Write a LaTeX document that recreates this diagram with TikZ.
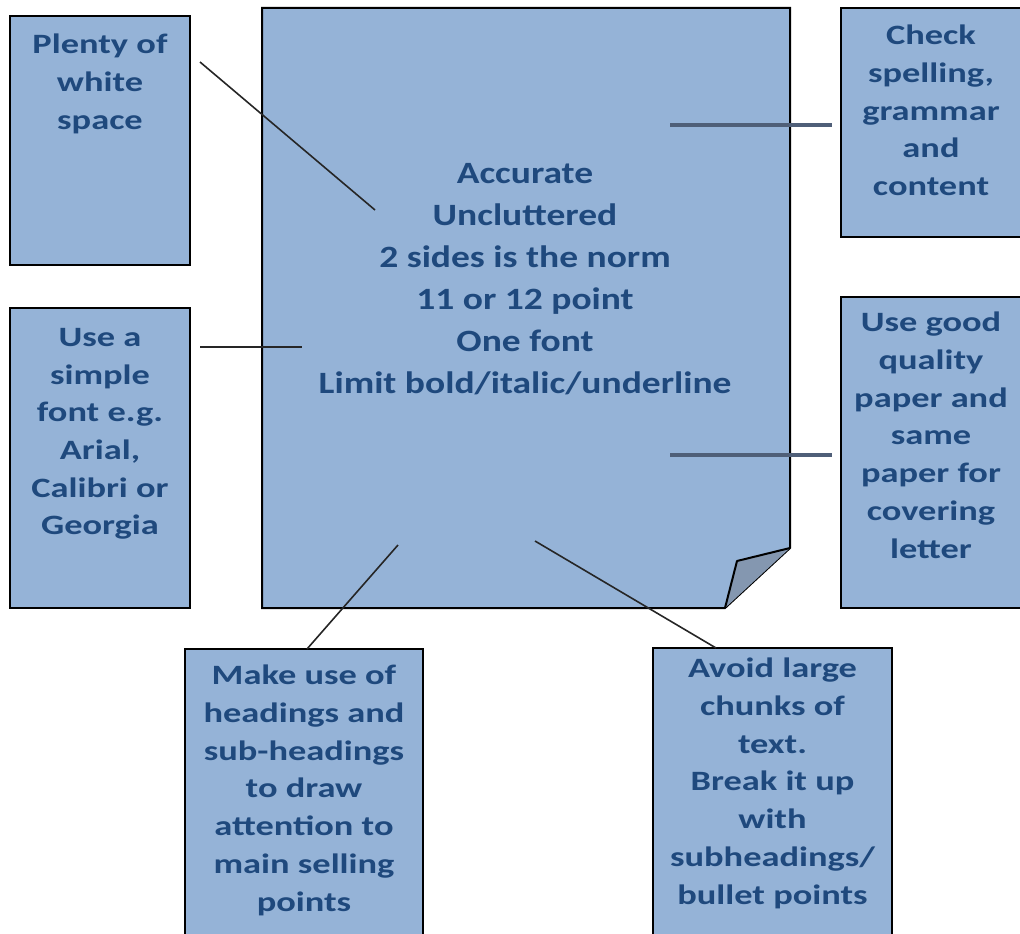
\documentclass[tikz,border=0pt]{standalone}
\usepackage{fontspec}
\setmainfont{Carlito}
\newfontfamily\pagefont{Carlito}[FakeStretch=1.21]
\newfontfamily\tipfont{Carlito}[FakeStretch=1.3]
\usetikzlibrary{positioning}
\definecolor{boxblue}{HTML}{95B3D7}
\definecolor{inkblue}{HTML}{1F497D}
\definecolor{foldblue}{HTML}{8497B0}
\definecolor{linegrey}{HTML}{4F5F78}

\begin{document}
\begin{tikzpicture}[x=1pt, y=-1pt,
    tip/.style={draw=black, line width=2pt, fill=boxblue, rectangle, inner sep=0pt},
    tiptext/.style={text=inkblue, font=\tipfont\bfseries\fontsize{28}{37.7}\selectfont,
      align=center, anchor=north, inner sep=0pt},
    pointer/.style={line width=1.6pt, draw=black!85},
    heavy/.style={line width=4.5pt, draw=linegrey}]
  \useasboundingbox (0,0) rectangle (1020,934);

  % the page
  \coordinate (nw) at (262,8);
  \coordinate (ne) at (790,8);
  \coordinate (se) at (790,548);
  \coordinate (fold) at (737,561);
  \coordinate (sw) at (725,608);
  \draw[fill=boxblue, line width=2pt] (nw) -- (ne) -- (se) -- (sw) -- (262,608) -- cycle;
  \fill[foldblue] (se) -- (fold) -- (sw) -- cycle;
  \draw[line width=2pt, line join=round] (se) -- (fold) -- (sw);

  \node[text=inkblue, font=\pagefont\bfseries\fontsize{31}{42}\selectfont, align=center] (rules) at (525,279)
    {Accurate\\Uncluttered\\2 sides is the norm\\11 or 12 point\\One font\\Limit bold/italic/underline};

  % tips round the page
  \node[tip, minimum width=180, minimum height=249] (whitespace) at (100,140.5) {};
  \node[tiptext] at ([yshift=-19pt]whitespace.north) {Plenty of\\white\\space};

  \node[tip, minimum width=180, minimum height=300] (simplefont) at (100,458) {};
  \node[tiptext] at ([yshift=-21pt]simplefont.north) {Use a\\simple\\font e.g.\\Arial,\\Calibri or\\Georgia};

  \node[tip, minimum width=184, minimum height=229] (spelling) at (933,122.5) {};
  \node[tiptext] at ([xshift=-2pt, yshift=-18pt]spelling.north) {Check\\spelling,\\grammar\\and\\content};

  \node[tip, minimum width=184, minimum height=311] (paper) at (933,452.5) {};
  \node[tiptext] at ([xshift=-2pt, yshift=-16pt]paper.north) {Use good\\quality\\paper and\\same\\paper for\\covering\\letter};

  \node[tip, minimum width=238, minimum height=292] (headings) at (304,795) {};
  \node[tiptext] at ([yshift=-17pt]headings.north) {Make use of\\headings and\\sub-headings\\to draw\\attention to\\main selling\\points};

  \node[tip, minimum width=239, minimum height=292] (chunks) at (772.5,794) {};
  \node[tiptext] at ([yshift=-11pt]chunks.north) {Avoid large\\chunks of\\text.\\Break it up\\with\\subheadings/\\bullet points};

  % pointers
  \coordinate (ws-a) at (200,62);   \coordinate (ws-b) at (375,210);
  \coordinate (sf-a) at (200,347);  \coordinate (sf-b) at (302,347);
  \coordinate (sp-a) at (670,125);  \coordinate (sp-b) at (832,125);
  \coordinate (pa-a) at (670,455);  \coordinate (pa-b) at (832,455);
  \coordinate (hd-a) at (398,545);  \coordinate (hd-b) at (307,649);
  \coordinate (ch-a) at (535,541);  \coordinate (ch-b) at (716,648);

  \draw[pointer] (ws-a) -- (ws-b);
  \draw[pointer] (sf-a) -- (sf-b);
  \draw[heavy] (sp-a) -- (sp-b);
  \draw[heavy] (pa-a) -- (pa-b);
  \draw[pointer] (hd-a) -- (hd-b);
  \draw[pointer] (ch-a) -- (ch-b);
\end{tikzpicture}
\end{document}
